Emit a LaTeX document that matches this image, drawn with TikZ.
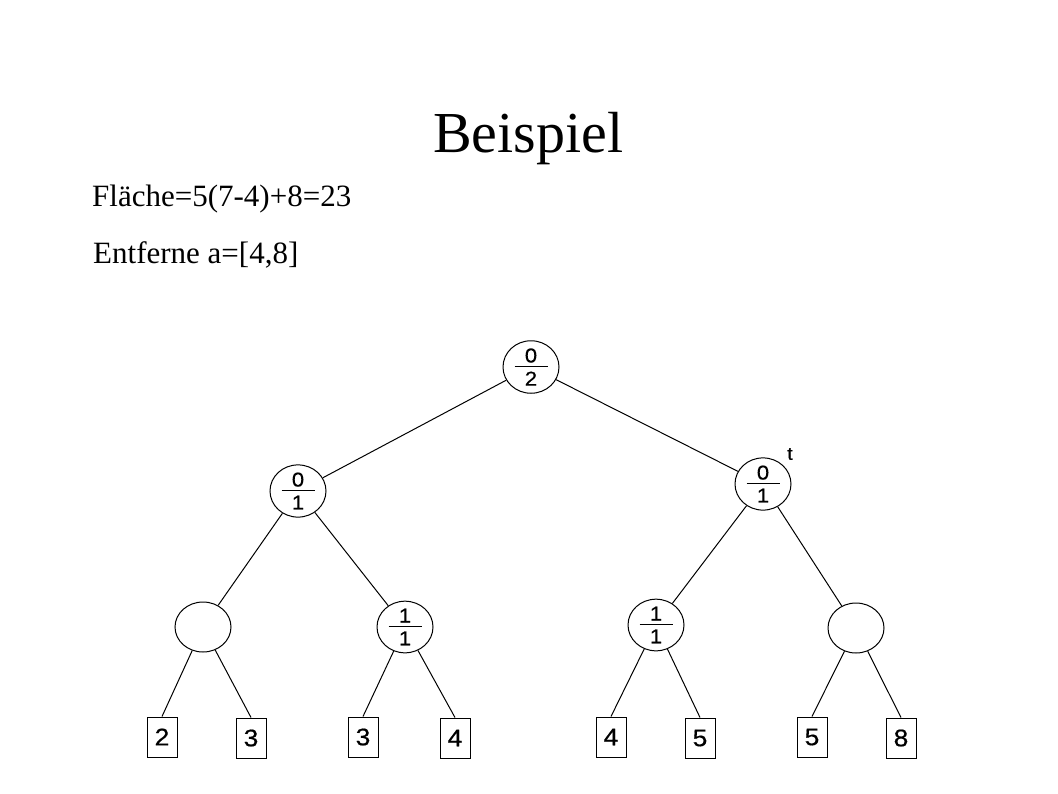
\documentclass[tikz,border=0pt]{standalone}
\usepackage{fontspec}
\setmainfont{Liberation Serif}
\newfontfamily\arial[FakeStretch=1.1,FakeBold=0.6]{Liberation Sans}
\usepackage{tikz}
\usetikzlibrary{shapes.geometric}

\newcommand{\frc}[2]{\vbox{\hbox to 33pt{\hss#1\hss}\kern3pt\hrule width 33pt height 1pt\kern5pt\hbox to 33pt{\hss#2\hss}}}

\tikzset{
  knot/.style={draw, ellipse, line width=1pt, minimum width=56pt, minimum height=50pt, inner sep=0pt, font=\fontsize{20}{20}\arial\selectfont},
  leaf/.style={draw, rectangle, line width=1pt, minimum width=30pt, minimum height=40pt, inner sep=0pt, font=\fontsize{24}{24}\arial\selectfont},
  edge/.style={line width=1pt}
}

\begin{document}
\begin{tikzpicture}[x=1pt,y=-1pt]
\useasboundingbox (0,0) rectangle (1058,793);

% heading
\node[anchor=base west, inner sep=0pt, font=\fontsize{58}{58}\selectfont] (title) at (433,152) {Beispiel};
\node[anchor=base west, inner sep=0pt, font=\fontsize{31}{31}\selectfont] (area) at (92,206) {Fläche=5(7-4)+8=23};
\node[anchor=base west, inner sep=0pt, font=\fontsize{31}{31}\selectfont] (remove) at (93,263) {Entferne a=[4,8]};

% inner nodes
\node[knot] (root) at (531,367) {\frc{0}{2}};
\node[knot] (l) at (298,491) {\frc{0}{1}};
\node[knot] (r) at (763,484) {\frc{0}{1}};
\node[knot] (ll) at (203,627) {};
\node[knot] (lr) at (405,627) {\frc{1}{1}};
\node[knot] (rl) at (656,625) {\frc{1}{1}};
\node[knot] (rr) at (856,628) {};

\node[inner sep=0pt, font=\fontsize{18}{18}\arial] (tlabel) at (790,454) {t};

% leaves
\node[leaf] (a1) at (162,737) {2};
\node[leaf] (a2) at (251,738) {3};
\node[leaf] (a3) at (363,737) {3};
\node[leaf] (a4) at (455,738) {4};
\node[leaf] (a5) at (611,737) {4};
\node[leaf] (a6) at (700,738) {5};
\node[leaf] (a7) at (812,737) {5};
\node[leaf] (a8) at (901,738) {8};

% edges
\draw[edge] (root) -- (l);
\draw[edge] (root) -- (r);
\draw[edge] (l) -- (ll);
\draw[edge] (l) -- (lr);
\draw[edge] (r) -- (rl);
\draw[edge] (r) -- (rr);
\draw[edge] (ll) -- (a1.north);
\draw[edge] (ll) -- (a2.north);
\draw[edge] (lr) -- (a3.north);
\draw[edge] (lr) -- (a4.north);
\draw[edge] (rl) -- (a5.north);
\draw[edge] (rl) -- (a6.north);
\draw[edge] (rr) -- (a7.north);
\draw[edge] (rr) -- (a8.north);
\end{tikzpicture}
\end{document}
